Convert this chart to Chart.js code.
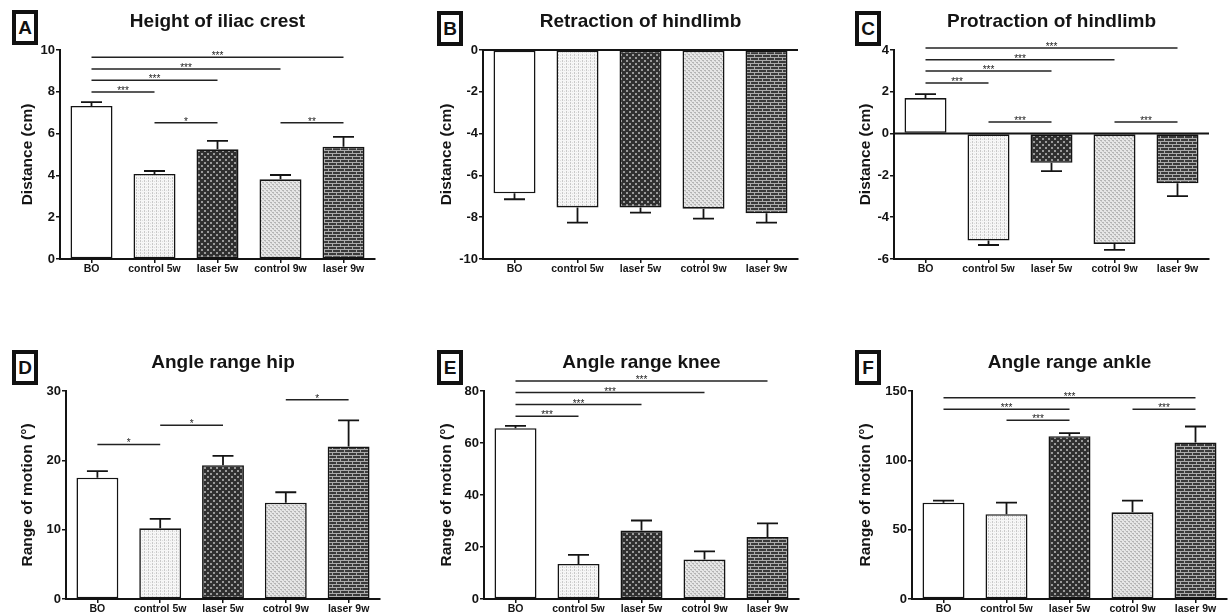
<!DOCTYPE html>
<html>
<head>
<meta charset="utf-8">
<script src="https://cdn.jsdelivr.net/npm/chart.js@4.4.1/dist/chart.umd.min.js"></script>
<style>
  body { margin: 0; background: #fff; width: 1229px; height: 615px; position: relative; overflow: hidden; }
  canvas { position: absolute; }
  .tag {
    position: absolute; width: 18px; height: 27px; border: 4px solid #111;
    font: bold 19px "Liberation Sans", Arial, sans-serif; line-height: 27px;
    text-align: center; color: #111; background: #fff;
  }
</style>
</head>
<body>
<div class="tag" style="left:12px;top:10px">A</div>
<div class="tag" style="left:437px;top:11px">B</div>
<div class="tag" style="left:855px;top:11px">C</div>
<div class="tag" style="left:12px;top:350px">D</div>
<div class="tag" style="left:437px;top:350px">E</div>
<div class="tag" style="left:855px;top:350px">F</div>

<canvas id="chartA" width="410" height="307" style="left:0;top:0"></canvas>
<canvas id="chartB" width="410" height="307" style="left:410px;top:0"></canvas>
<canvas id="chartC" width="409" height="307" style="left:820px;top:0"></canvas>
<canvas id="chartD" width="410" height="274" style="left:0;top:341px"></canvas>
<canvas id="chartE" width="410" height="274" style="left:410px;top:341px"></canvas>
<canvas id="chartF" width="409" height="274" style="left:820px;top:341px"></canvas>

<script>
const groupsA = ['BO', 'control 5w', 'laser 5w', 'control 9w', 'laser 9w'];
const groups = ['BO', 'control 5w', 'laser 5w', 'cotrol 9w', 'laser 9w'];

// A: height of iliac crest (cm), mean and SEM
const iliacMean = [7.32, 4.07, 5.25, 3.81, 5.37];
const iliacSem = [0.19, 0.14, 0.40, 0.21, 0.47];
const iliacTicks = [0, 2, 4, 6, 8, 10];
// [from group, to group, height, stars]
const iliacSig = [[0, 4, 9.65, '***'], [0, 3, 9.09, '***'], [0, 2, 8.55, '***'], [0, 1, 7.99, '***'], [1, 2, 6.52, '*'], [3, 4, 6.52, '**']];

// B: retraction of hindlimb (cm)
const retractMean = [-6.86, -7.53, -7.53, -7.59, -7.81];
const retractSem = [0.28, 0.73, 0.25, 0.48, 0.45];
const retractTicks = [-10, -8, -6, -4, -2, 0];
const retractSig = [];

// C: protraction of hindlimb (cm)
const protractMean = [1.70, -5.12, -1.40, -5.28, -2.38];
const protractSem = [0.19, 0.21, 0.40, 0.28, 0.61];
const protractTicks = [-6, -4, -2, 0, 2, 4];
const protractSig = [[0, 4, 4.09, '***'], [0, 3, 3.53, '***'], [0, 2, 2.99, '***'], [0, 1, 2.42, '***'], [1, 2, 0.56, '***'], [3, 4, 0.56, '***']];

// D: angle range hip (deg)
const hipMean = [17.5, 10.2, 19.3, 13.9, 22.0];
const hipSem = [0.95, 1.35, 1.35, 1.5, 3.75];
const hipTicks = [0, 10, 20, 30];
const hipSig = [[0, 1, 22.3, '*'], [1, 2, 25.06, '*'], [3, 4, 28.75, '*']];

// E: angle range knee (deg)
const kneeMean = [65.7, 13.5, 26.3, 15.2, 23.8];
const kneeSem = [0.9, 3.5, 3.9, 3.1, 5.3];
const kneeTicks = [0, 20, 40, 60, 80];
const kneeSig = [[0, 4, 83.8, '***'], [0, 3, 79.4, '***'], [0, 2, 74.8, '***'], [0, 1, 70.3, '***']];

// F: angle range ankle (deg)
const ankleMean = [69.5, 61.1, 117.4, 62.5, 112.9];
const ankleSem = [1.4, 8.4, 2.2, 8.4, 11.5];
const ankleTicks = [0, 50, 100, 150];
const ankleSig = [[0, 4, 145.2, '***'], [0, 2, 136.8, '***'], [1, 2, 128.9, '***'], [3, 4, 136.8, '***']];

const FONT = '"Liberation Sans", Arial, sans-serif';
const INK = '#141414';
Chart.defaults.font.family = FONT;

function makePattern(w, h, draw) {
  const c = document.createElement('canvas');
  c.width = w; c.height = h;
  const g = c.getContext('2d');
  draw(g);
  return g.createPattern(c, 'repeat');
}

// bar fills, roughly like the prism hatch patterns
const fills = [
  '#ffffff',
  makePattern(4, 3, g => {
    g.fillStyle = '#f6f6f6'; g.fillRect(0, 0, 4, 3);
    g.fillStyle = '#c9c9c9'; g.fillRect(0, 0, 1, 2);
    g.fillStyle = '#dddddd'; g.fillRect(2, 1, 1, 1);
  }),
  makePattern(6, 6, g => {
    g.fillStyle = '#303030'; g.fillRect(0, 0, 6, 6);
    g.fillStyle = '#9a9a9a'; g.fillRect(0, 0, 2, 2); g.fillRect(3, 3, 2, 2);
  }),
  makePattern(4, 4, g => {
    g.fillStyle = '#e6e6e6'; g.fillRect(0, 0, 4, 4);
    g.fillStyle = '#b4b4b4'; g.fillRect(0, 0, 2, 1); g.fillRect(2, 2, 2, 1);
    g.fillStyle = '#c8c8c8'; g.fillRect(1, 1, 1, 1); g.fillRect(3, 3, 1, 1);
  }),
  makePattern(8, 6, g => {
    g.fillStyle = '#3a3a3a'; g.fillRect(0, 0, 8, 6);
    g.fillStyle = '#ababab'; g.fillRect(0, 0, 8, 1); g.fillRect(0, 3, 8, 1);
    g.fillRect(0, 1, 1, 2); g.fillRect(4, 4, 1, 2);
  })
];

function makeChart(id, title, labels, mean, sem, sig, ticks, yTitle, geo) {
  const canvas = document.getElementById(id);
  if (!canvas) return;

  const extras = {
    id: 'extras_' + id,
    afterDatasetsDraw: function (chart) {
      const ctx = chart.ctx;
      const y = chart.scales.y;
      const area = chart.chartArea;
      const meta = chart.getDatasetMeta(0);
      ctx.save();
      ctx.strokeStyle = INK;
      // zero line when the axis goes negative
      if (y.min < 0 && y.max >= 0) {
        const y0 = y.getPixelForValue(0);
        ctx.lineWidth = 2;
        ctx.beginPath();
        ctx.moveTo(area.left, y0);
        ctx.lineTo(area.right, y0);
        ctx.stroke();
      }
      // one-sided error bars
      ctx.lineWidth = 1.8;
      sem.forEach(function (s, i) {
        const bar = meta.data[i];
        const v = mean[i];
        const end = y.getPixelForValue(v < 0 ? v - s : v + s);
        const cap = bar.width / 4;
        ctx.beginPath();
        ctx.moveTo(bar.x, bar.y);
        ctx.lineTo(bar.x, end);
        ctx.moveTo(bar.x - cap, end);
        ctx.lineTo(bar.x + cap, end);
        ctx.stroke();
      });
      ctx.restore();
    },
    afterDraw: function (chart) {
      const ctx = chart.ctx;
      const x = chart.scales.x;
      const y = chart.scales.y;
      ctx.save();
      ctx.strokeStyle = '#222';
      ctx.fillStyle = '#222';
      ctx.lineWidth = 1.5;
      ctx.font = '10px ' + FONT;
      ctx.textAlign = 'center';
      ctx.textBaseline = 'alphabetic';
      sig.forEach(function (c) {
        const x1 = x.getPixelForValue(c[0]);
        const x2 = x.getPixelForValue(c[1]);
        const yy = y.getPixelForValue(c[2]);
        ctx.beginPath();
        ctx.moveTo(x1, yy);
        ctx.lineTo(x2, yy);
        ctx.stroke();
        ctx.fillText(c[3], (x1 + x2) / 2, yy + 2);
      });
      ctx.restore();
    }
  };

  return new Chart(canvas, {
    type: 'bar',
    data: {
      labels: labels,
      datasets: [{
        data: mean,
        backgroundColor: fills,
        borderColor: INK,
        borderWidth: 1.6,
        borderSkipped: false,
        barPercentage: 0.667,
        categoryPercentage: 1
      }]
    },
    options: {
      responsive: false,
      animation: false,
      layout: { padding: { left: 0, right: geo.right, top: 0, bottom: 0 } },
      plugins: {
        legend: { display: false },
        tooltip: { enabled: false },
        title: {
          display: true,
          text: title,
          fullSize: false,
          color: INK,
          font: { size: 19, weight: 'bold' },
          padding: { top: 10, bottom: 17.2 }
        }
      },
      scales: {
        x: {
          grid: { drawOnChartArea: false, offset: false, tickLength: 4, color: INK, lineWidth: 1.5 },
          border: { color: INK, width: 2 },
          ticks: { color: INK, font: { size: 10.5, weight: 'bold' }, padding: 0, maxRotation: 0, autoSkip: false },
          afterFit: function (s) { s.height = geo.bottom; }
        },
        y: {
          min: ticks[0],
          max: ticks[ticks.length - 1],
          ticks: { stepSize: ticks[1] - ticks[0], color: INK, font: { size: 13, weight: 'bold' }, padding: 1 },
          grid: { drawOnChartArea: false, tickLength: 4, color: INK, lineWidth: 1.5 },
          border: { color: INK, width: 2 },
          title: {
            display: true,
            text: yTitle,
            color: INK,
            font: { size: 15.5, weight: 'bold' },
            padding: { top: geo.titlePad, bottom: 0 }
          },
          afterFit: function (s) { s.width = geo.left; }
        }
      }
    },
    plugins: [extras]
  });
}

makeChart('chartA', 'Height of iliac crest', groupsA, iliacMean, iliacSem, iliacSig, iliacTicks, 'Distance (cm)',
  { left: 60, right: 35, bottom: 48, titlePad: 18 });
makeChart('chartB', 'Retraction of hindlimb', groups, retractMean, retractSem, retractSig, retractTicks, 'Distance (cm)',
  { left: 73, right: 22, bottom: 48, titlePad: 27 });
makeChart('chartC', 'Protraction of hindlimb', groups, protractMean, protractSem, protractSig, protractTicks, 'Distance (cm)',
  { left: 74, right: 20, bottom: 48, titlePad: 36 });
makeChart('chartD', 'Angle range hip', groups, hipMean, hipSem, hipSig, hipTicks, 'Range of motion (°)',
  { left: 66, right: 30, bottom: 16, titlePad: 18 });
makeChart('chartE', 'Angle range knee', groups, kneeMean, kneeSem, kneeSig, kneeTicks, 'Range of motion (°)',
  { left: 74, right: 21, bottom: 16, titlePad: 27 });
makeChart('chartF', 'Angle range ankle', groups, ankleMean, ankleSem, ankleSig, ankleTicks, 'Range of motion (°)',
  { left: 92, right: 2, bottom: 16, titlePad: 36 });
</script>
</body>
</html>
